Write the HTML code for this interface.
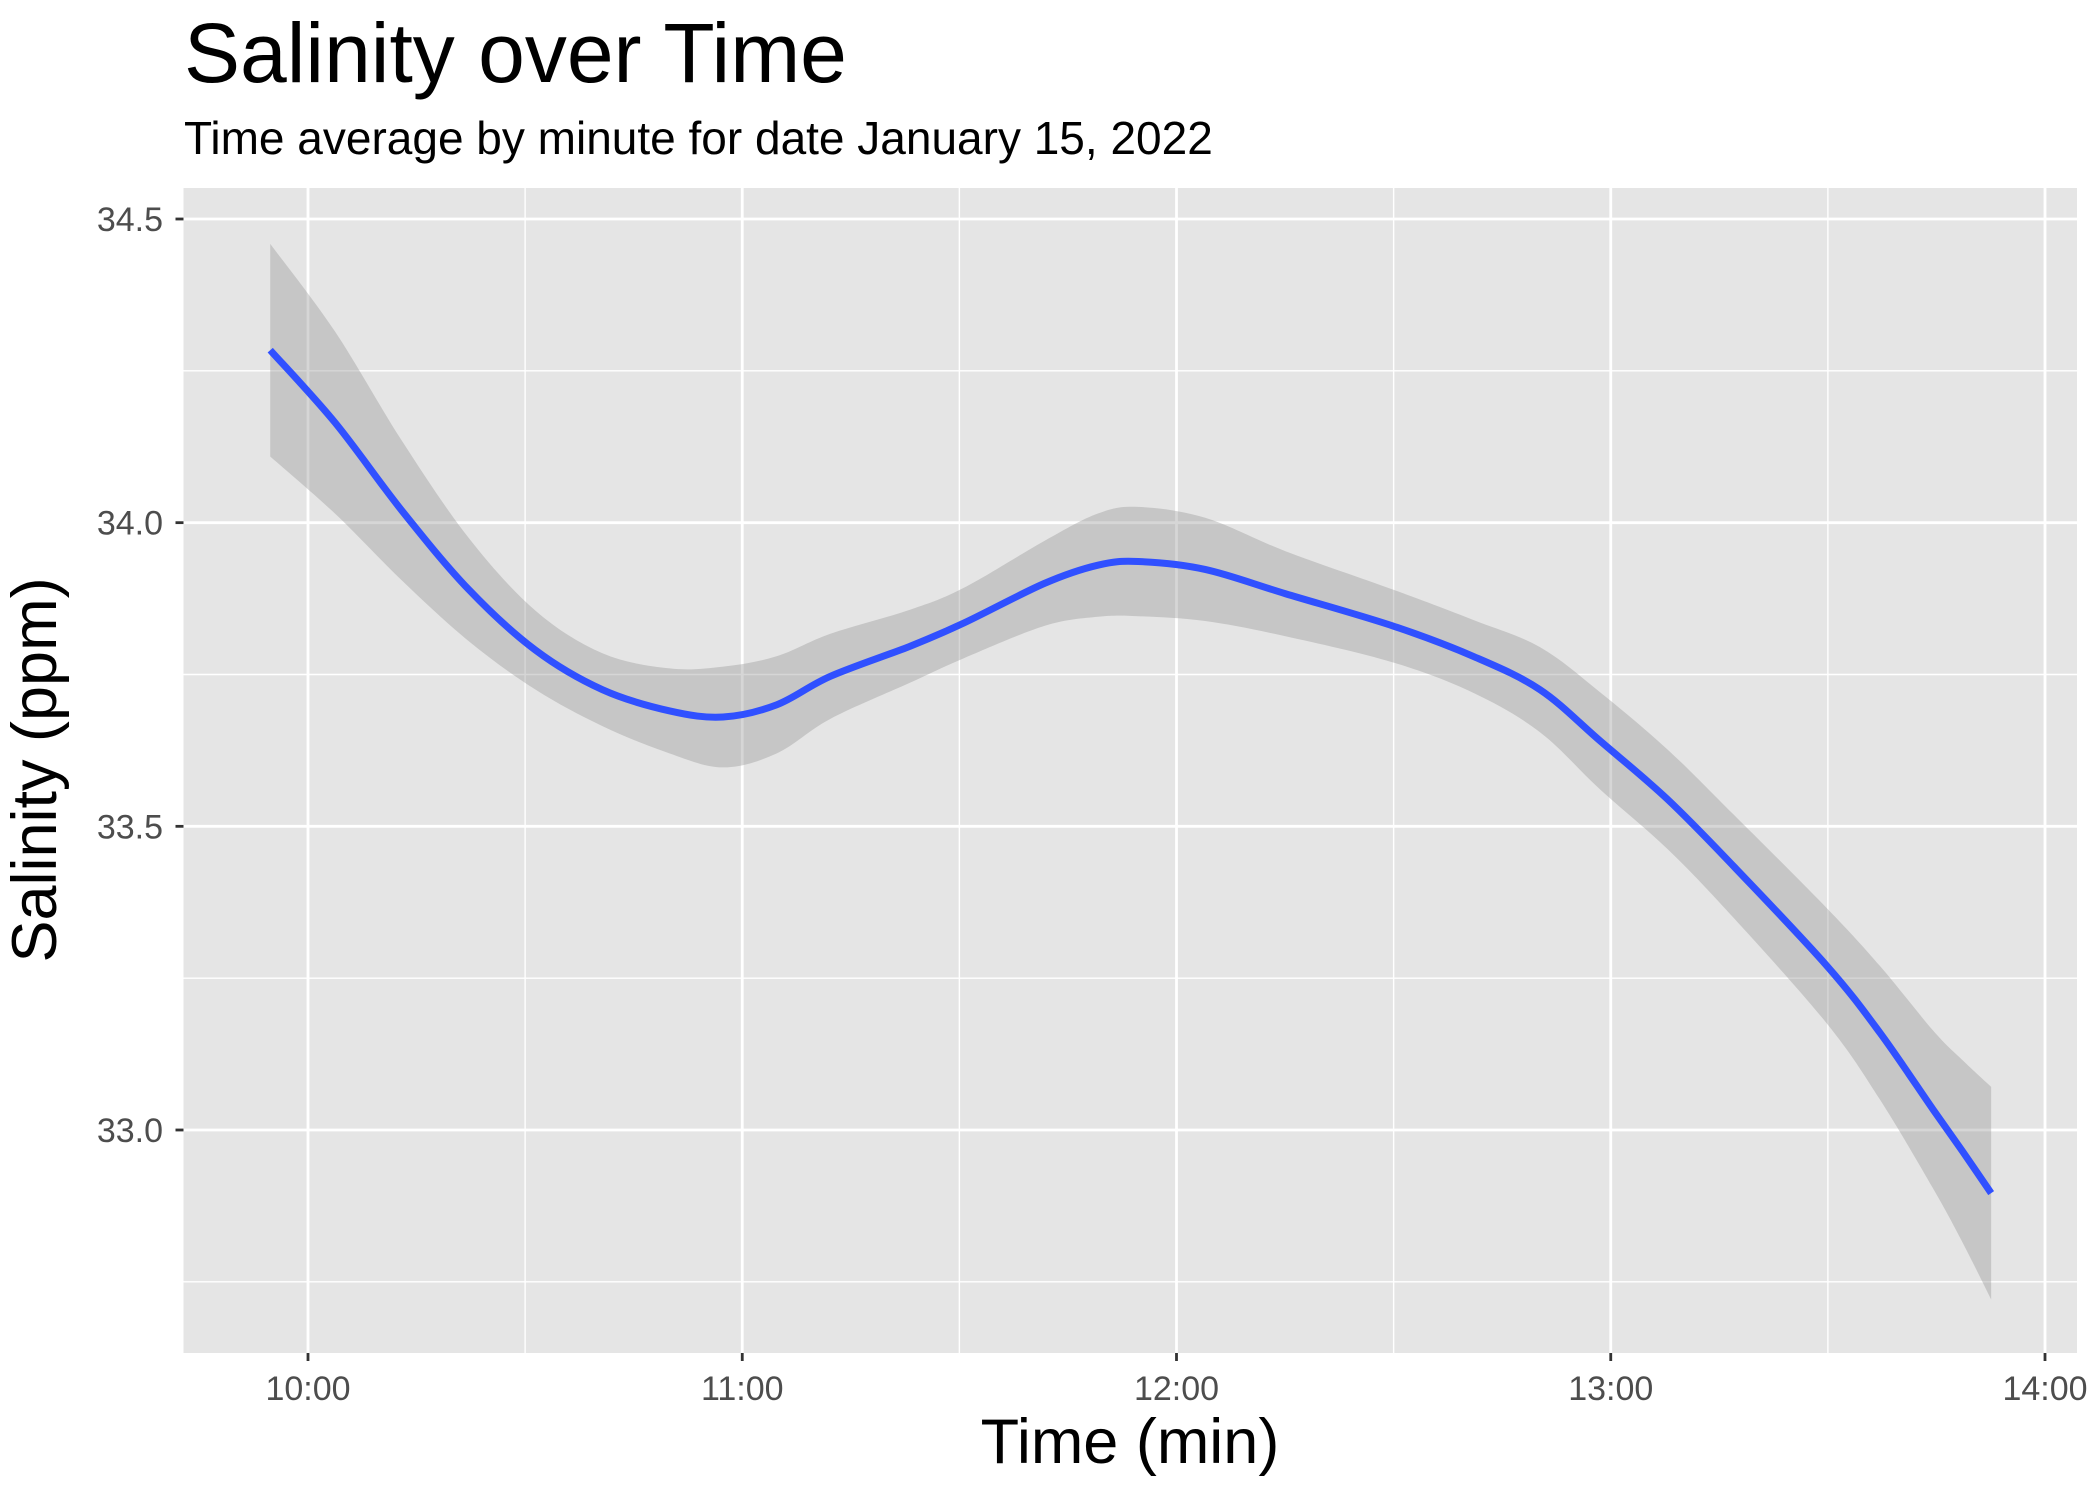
<!DOCTYPE html>
<html><head><meta charset="utf-8"><style>
body{margin:0;background:#fff;}
svg{display:block;font-family:"Liberation Sans",Arial,sans-serif;}
</style></head><body>
<svg id="chart" width="2100" height="1500" viewBox="0 0 2100 1500">
<text x="184" y="82" font-size="84" fill="#000">Salinity over Time</text>
<text x="184" y="154" font-size="46" fill="#000">Time average by minute for date January 15, 2022</text>
<rect x="183.5" y="188" width="1893.5" height="1165" fill="#e5e5e5"/>
<g id="grid"></g>
<g id="band"></g>
<g id="line"></g>
<g id="axes"></g>
<text x="1130" y="1463" font-size="63" text-anchor="middle" fill="#000">Time (min)</text>
<text transform="translate(56,770) rotate(-90)" font-size="63" text-anchor="middle" fill="#000">Salinity (ppm)</text>
</svg>
<script>
const times=[9.913,10.062,10.216,10.37,10.524,10.678,10.833,10.956,11.079,11.203,11.388,11.511,11.696,11.819,11.912,12.066,12.251,12.498,12.683,12.837,12.975,13.13,13.282,13.498,13.62,13.742,13.81,13.876];
const fit=[34.284,34.165,34.02,33.89,33.79,33.725,33.69,33.68,33.70,33.747,33.797,33.835,33.90,33.93,33.936,33.923,33.883,33.83,33.78,33.725,33.641,33.545,33.435,33.27,33.16,33.034,32.965,32.896];
const halfWidth=[0.175,0.15,0.115,0.085,0.065,0.06,0.07,0.083,0.08,0.07,0.06,0.058,0.07,0.085,0.09,0.085,0.07,0.06,0.06,0.07,0.08,0.082,0.085,0.095,0.11,0.13,0.15,0.175];
const xTicks=[10,11,12,13,14];
const xTickLabels=["10:00","11:00","12:00","13:00","14:00"];
const xMinor=[10.5,11.5,12.5,13.5];
const yTicks=[33.0,33.5,34.0,34.5];
const yTickLabels=["33.0","33.5","34.0","34.5"];
const yMinor=[32.75,33.25,33.75,34.25];

const NS="http://www.w3.org/2000/svg";
const X0=183.5,X1=2077,Y0=188,Y1=1353;
function sx(t){return 308+(t-10)*434.25;}
function sy(v){return 219+(34.5-v)*607.33;}
function mk(tag,attrs,parent){const e=document.createElementNS(NS,tag);for(const k in attrs)e.setAttribute(k,attrs[k]);document.getElementById(parent).appendChild(e);return e;}
function spline(pts){let d="M"+pts[0][0]+","+pts[0][1];for(let i=0;i<pts.length-1;i++){const p0=pts[Math.max(i-1,0)],p1=pts[i],p2=pts[i+1],p3=pts[Math.min(i+2,pts.length-1)];const c1=[p1[0]+(p2[0]-p0[0])/6,p1[1]+(p2[1]-p0[1])/6],c2=[p2[0]-(p3[0]-p1[0])/6,p2[1]-(p3[1]-p1[1])/6];d+=" C"+c1[0]+","+c1[1]+" "+c2[0]+","+c2[1]+" "+p2[0]+","+p2[1];}return d;}

xMinor.forEach(t=>{const e=mk("line",{x1:sx(t),x2:sx(t),y1:Y0,y2:Y1,stroke:"#fff","stroke-width":1.4},"grid");

});
yMinor.forEach(v=>{const e=mk("line",{x1:X0,x2:X1,y1:sy(v),y2:sy(v),stroke:"#fff","stroke-width":1.4},"grid");

});
xTicks.forEach(t=>{const e=mk("line",{x1:sx(t),x2:sx(t),y1:Y0,y2:Y1,stroke:"#fff","stroke-width":2.8},"grid");

});
yTicks.forEach(v=>{const e=mk("line",{x1:X0,x2:X1,y1:sy(v),y2:sy(v),stroke:"#fff","stroke-width":2.8},"grid");

});

const up=times.map((t,i)=>[sx(t),sy(fit[i]+halfWidth[i])]);
const lo=times.map((t,i)=>[sx(t),sy(fit[i]-halfWidth[i])]).reverse();
let dUp=spline(up),dLo=spline(lo).replace(/^M/,"L");
const band=mk("path",{d:dUp+" "+dLo+" Z",fill:"#999","fill-opacity":0.4},"band");


const ln=mk("path",{d:spline(times.map((t,i)=>[sx(t),sy(fit[i])])),fill:"none",stroke:"#3050ff","stroke-width":7},"line");



xTicks.forEach((t,i)=>{const tk=mk("line",{x1:sx(t),x2:sx(t),y1:Y1,y2:Y1+8,stroke:"#333","stroke-width":2.8},"axes");


const tx=mk("text",{x:sx(t),y:1400,"font-size":34,"text-anchor":"middle",fill:"#4d4d4d"},"axes");tx.textContent=xTickLabels[i];

});
yTicks.forEach((v,i)=>{const tk=mk("line",{x1:X0-8,x2:X0,y1:sy(v),y2:sy(v),stroke:"#333","stroke-width":2.8},"axes");


const tx=mk("text",{x:163,y:sy(v)+12,"font-size":34,"text-anchor":"end",fill:"#4d4d4d"},"axes");tx.textContent=yTickLabels[i];

});
</script>
</body></html>
